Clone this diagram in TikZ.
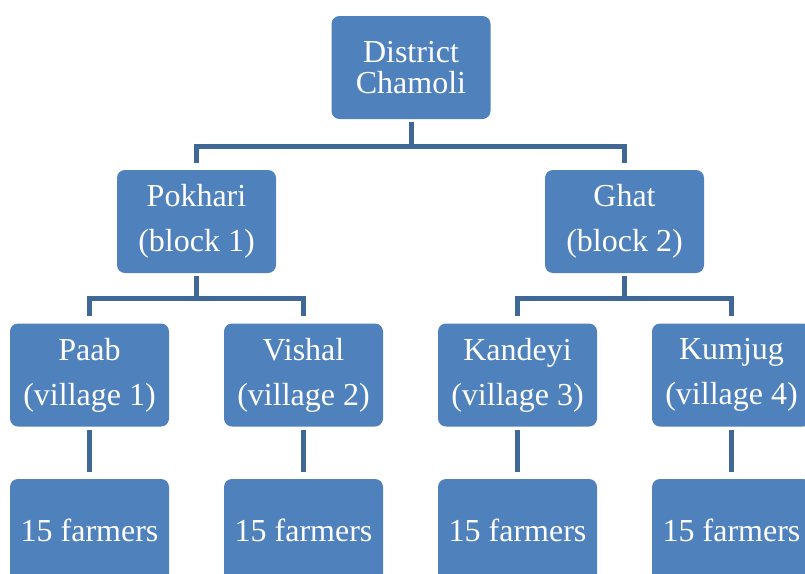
\documentclass[tikz,border=0pt]{standalone}
\usepackage{fontspec}
\setmainfont{Liberation Serif}

\definecolor{BoxBlue}{HTML}{4F81BD}
\definecolor{LinkBlue}{HTML}{3F6897}

\tikzset{
  unit/.style={rectangle, rounded corners=8pt, fill=BoxBlue, text=white,
    minimum width=159pt, minimum height=103pt, inner sep=0pt, align=center,
    font=\fontsize{32}{45}\selectfont},
  link/.style={line width=5pt, color=LinkBlue, shorten <=3pt, shorten >=7pt}
}

\begin{document}
\begin{tikzpicture}[x=1pt, y=-1pt]

 \useasboundingbox (0,0) rectangle (805,573) ;

 %%%%%%%%%% District %%%%%%%%%%
 \node[unit, font=\fontsize{32}{31}\selectfont] (dist) at (411,67.5) {District\\Chamoli};

 %%%%%%%%%% Blocks %%%%%%%%%%
 \node[unit] (pokh) at (196.5,221.5) {Pokhari\\(block 1)};
 \node[unit] (ghat) at (624.5,221.5) {Ghat\\(block 2)};

 %%%%%%%%%% Villages %%%%%%%%%%
 \node[unit] (paab) at (89.5,375) {Paab\\(village 1)};
 \node[unit] (vish) at (303.5,375) {Vishal\\(village 2)};
 \node[unit] (kand) at (517.5,375) {Kandeyi\\(village 3)};
 \node[unit] (kumj) at (731.5,375) {Kumjug\\(village 4)};

 %%%%%%%%%% Farmers %%%%%%%%%%
 \node[unit] (farmA) at (89.5,530.5) {15 farmers};
 \node[unit] (farmB) at (303.5,530.5) {15 farmers};
 \node[unit] (farmC) at (517.5,530.5) {15 farmers};
 \node[unit] (farmD) at (731.5,530.5) {15 farmers};

 % District -> blocks
 \draw [link] (dist.south) -- ++(0,27) -| (pokh.north) ;
 \draw [link] (dist.south) -- ++(0,27) -| (ghat.north) ;

 % Blocks -> villages
 \draw [link] (pokh.south) -- ++(0,25) -| (paab.north) ;
 \draw [link] (pokh.south) -- ++(0,25) -| (vish.north) ;
 \draw [link] (ghat.south) -- ++(0,25) -| (kand.north) ;
 \draw [link] (ghat.south) -- ++(0,25) -| (kumj.north) ;

 % Villages -> farmers
 \draw [link] (paab) -- (farmA) ;
 \draw [link] (vish) -- (farmB) ;
 \draw [link] (kand) -- (farmC) ;
 \draw [link] (kumj) -- (farmD) ;

\end{tikzpicture}
\end{document}
